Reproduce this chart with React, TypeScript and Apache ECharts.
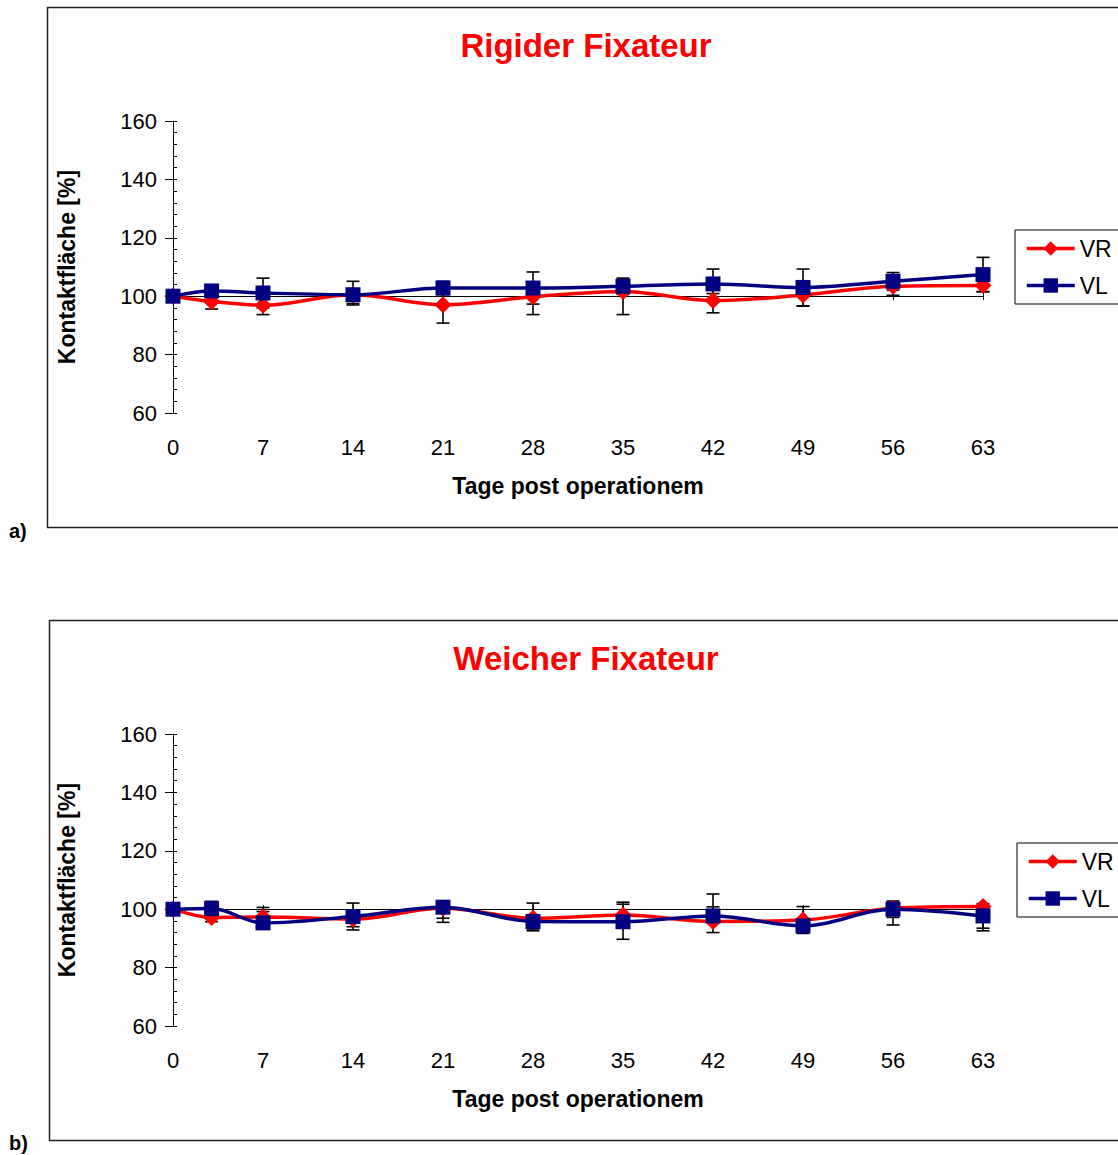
import React, { useEffect, useRef } from 'react';
import * as echarts from 'echarts';

// ---- data ----
const DAYS = [0, 3, 7, 14, 21, 28, 35, 42, 49, 56, 63];

// Panel a) Rigider Fixateur
const VR_A = [100, 98.2, 96.9, 100.5, 97.1, 99.8, 101.6, 98.5, 100.4, 103.4, 103.7];
const VR_A_PLUS = [0, 2.5, 2.2, 0, 6.3, 0, 0, 4.2, 3.8, 3.1, 0];
const VR_A_MINUS = [0, 2.6, 3.2, 3.5, 6.3, 6.1, 7.9, 4.2, 3.8, 3.1, 2.1];
const VL_A = [100, 101.8, 101.1, 100.5, 102.8, 102.8, 103.4, 104.2, 103.0, 105.1, 107.4];
const VL_A_PLUS = [0, 1.5, 5.1, 4.6, 2.3, 5.5, 2.8, 5.1, 6.3, 3.0, 5.9];
const VL_A_MINUS = [0, 1.5, 5.1, 3.0, 2.3, 5.5, 2.8, 3.3, 6.3, 3.0, 5.9];

// Panel b) Weicher Fixateur
const VR_B = [100, 97.2, 97.3, 96.6, 100.3, 96.9, 98.0, 95.8, 96.3, 100.3, 100.9];
const VR_B_PLUS = [0, 4.7, 3.3, 2.6, 0, 5.2, 4.4, 5.0, 4.6, 0, 0];
const VR_B_MINUS = [0, 1.5, 3.3, 2.6, 3.4, 3.7, 4.4, 3.8, 4.6, 5.7, 8.3];
const VL_B = [100, 100.2, 95.3, 97.5, 100.7, 95.8, 95.7, 97.7, 94.3, 100.0, 97.7];
const VL_B_PLUS = [0, 2.5, 3.9, 4.6, 0, 2.0, 6.0, 7.5, 1.5, 2.8, 4.2];
const VL_B_MINUS = [0, 2.5, 1.0, 4.6, 5.2, 3.2, 6.0, 1.0, 1.5, 2.8, 4.2];

const TITLES = ['Rigider Fixateur', 'Weicher Fixateur'];
const PANEL_LABELS = ['a)', 'b)'];
const SERIES_NAMES = ['VR', 'VL'];
const X_NAME = 'Tage post operationem';
const Y_NAME = 'Kontaktfläche [%]';

const Y_MIN = 60;
const Y_MAX = 160;
const Y_STEP = 20;
const X_MIN = 0;
const X_MAX = 63;
const X_STEP = 7;
const BASELINE = 100;

// ---- layout / style ----
const FONT = '"Liberation Sans", Arial, Helvetica, sans-serif';
const RED = '#FF0000';
const NAVY = '#000080';
const GRIDS = [
  { left: 173, top: 121, width: 810, height: 292 },
  { left: 173, top: 734, width: 810, height: 292 },
];
const FRAMES = [
  { x: 47.5, y: 7.5, height: 520 },
  { x: 49.5, y: 620.5, height: 520 },
];

function errorSeries(name: string, gi: number, vals: number[], plus: number[], minus: number[]) {
  return {
    type: 'custom',
    name,
    xAxisIndex: gi * 3,
    yAxisIndex: gi * 2,
    z: 1,
    silent: true,
    encode: { x: 0, y: 1 },
    data: DAYS.map((d, k) => [d, vals[k], plus[k], minus[k]]),
    renderItem: (params: any, api: any) => {
      const x = api.value(0);
      const y = api.value(1);
      const p = api.value(2);
      const m = api.value(3);
      const t = api.coord([x, y + p]);
      const b = api.coord([x, y - m]);
      const st = { stroke: '#000', lineWidth: 1.6 };
      const children: any[] = [
        { type: 'line', shape: { x1: t[0], y1: t[1], x2: b[0], y2: b[1] }, style: st },
      ];
      if (p > 0) children.push({ type: 'line', shape: { x1: t[0] - 6.5, y1: t[1], x2: t[0] + 6.5, y2: t[1] }, style: st });
      if (m > 0) children.push({ type: 'line', shape: { x1: b[0] - 6.5, y1: b[1], x2: b[0] + 6.5, y2: b[1] }, style: st });
      return { type: 'group', children };
    },
  };
}

function lineSeries(name: string, gi: number, vals: number[], color: string, symbol: string, size: number, z: number) {
  return {
    type: 'line',
    name,
    xAxisIndex: gi * 3,
    yAxisIndex: gi * 2,
    data: DAYS.map((d, k) => [d, vals[k]]),
    smooth: 0.35,
    symbol,
    symbolSize: size,
    showSymbol: true,
    lineStyle: { color, width: 3.5 },
    itemStyle: { color },
    z,
  };
}

function buildOption() {
  const xAxis: any[] = [];
  const yAxis: any[] = [];
  GRIDS.forEach((g, gi) => {
    const baseOffset = -((BASELINE - Y_MIN) / (Y_MAX - Y_MIN)) * g.height;
    const common = { gridIndex: gi, type: 'value', min: X_MIN, max: X_MAX, interval: X_STEP, splitLine: { show: false } };
    xAxis.push({
      ...common,
      position: 'bottom',
      axisLine: { show: false },
      axisTick: { show: false },
      axisLabel: { margin: 23, color: '#000', fontSize: 22, fontFamily: FONT },
      name: X_NAME,
      nameLocation: 'middle',
      nameGap: 61,
      nameTextStyle: { color: '#000', fontSize: 23, fontWeight: 'bold', fontFamily: FONT },
    });
    xAxis.push({
      ...common,
      position: 'bottom',
      offset: baseOffset,
      axisLine: { show: true, lineStyle: { color: '#000', width: 1 } },
      axisTick: { show: true, length: 4, lineStyle: { color: '#000', width: 1 } },
      axisLabel: { show: false },
    });
    xAxis.push({
      ...common,
      position: 'bottom',
      offset: baseOffset,
      axisLine: { show: false },
      axisTick: { show: true, inside: true, length: 4, lineStyle: { color: '#000', width: 1 } },
      axisLabel: { show: false },
    });
    const ycommon = { gridIndex: gi, type: 'value', min: Y_MIN, max: Y_MAX, interval: Y_STEP, position: 'left', splitLine: { show: false } };
    yAxis.push({
      ...ycommon,
      axisLine: { show: true, lineStyle: { color: '#000', width: 1 } },
      axisTick: { show: true, length: 8, lineStyle: { color: '#000', width: 1 } },
      axisLabel: { margin: 16, color: '#000', fontSize: 22, fontFamily: FONT },
      name: Y_NAME,
      nameLocation: 'middle',
      nameRotate: 90,
      nameGap: 95,
      nameTextStyle: { color: '#000', fontSize: 23, fontWeight: 'bold', fontFamily: FONT },
    });
    yAxis.push({
      ...ycommon,
      axisLine: { show: false },
      axisTick: { show: true, inside: true, length: 4, lineStyle: { color: '#000', width: 1 } },
      minorTick: { show: true, splitNumber: 5, length: 4, lineStyle: { color: '#000', width: 1 } },
      axisLabel: { show: false },
    });
  });

  const series: any[] = [
    errorSeries('VR err a', 0, VR_A, VR_A_PLUS, VR_A_MINUS),
    errorSeries('VL err a', 0, VL_A, VL_A_PLUS, VL_A_MINUS),
    lineSeries(SERIES_NAMES[0], 0, VR_A, RED, 'diamond', 17, 3),
    lineSeries(SERIES_NAMES[1], 0, VL_A, NAVY, 'rect', 15, 4),
    errorSeries('VR err b', 1, VR_B, VR_B_PLUS, VR_B_MINUS),
    errorSeries('VL err b', 1, VL_B, VL_B_PLUS, VL_B_MINUS),
    lineSeries(SERIES_NAMES[0], 1, VR_B, RED, 'diamond', 17, 3),
    lineSeries(SERIES_NAMES[1], 1, VL_B, NAVY, 'rect', 15, 4),
  ];

  const legendTops = [230, 843];
  const legendLefts = [1015, 1017];
  const legend = legendTops.map((top, i) => ({
    orient: 'vertical',
    left: legendLefts[i],
    top,
    padding: [7, 10, 7, 10],
    itemGap: 14,
    itemWidth: 48,
    itemHeight: 18,
    borderColor: '#000',
    borderWidth: 1,
    selectedMode: false,
    lineStyle: { width: 3.5 },
    textStyle: { color: '#000', fontSize: 23, fontFamily: FONT },
    data: SERIES_NAMES,
  }));

  const titleYs = [45, 658];
  const labelYs = [531, 1143];
  const graphic: any[] = [];
  FRAMES.forEach((f, i) => {
    graphic.push({
      type: 'rect',
      silent: true,
      z: -10,
      shape: { x: f.x, y: f.y, width: 1100, height: f.height },
      style: { fill: 'none', stroke: '#222', lineWidth: 1.5 },
    });
    graphic.push({
      type: 'text',
      silent: true,
      x: 586,
      y: titleYs[i],
      style: {
        text: TITLES[i],
        fill: RED,
        font: `bold 33px ${FONT}`,
        align: 'center',
        verticalAlign: 'middle',
        textAlign: 'center',
        textVerticalAlign: 'middle',
      },
    });
    graphic.push({
      type: 'text',
      silent: true,
      x: 9,
      y: labelYs[i],
      style: {
        text: PANEL_LABELS[i],
        fill: '#000',
        font: `bold 20px ${FONT}`,
        align: 'left',
        verticalAlign: 'middle',
        textAlign: 'left',
        textVerticalAlign: 'middle',
      },
    });
  });

  return {
    animation: false,
    backgroundColor: '#fff',
    grid: GRIDS.map((g) => ({ ...g, containLabel: false })),
    xAxis,
    yAxis,
    legend,
    graphic,
    series,
  };
}

export default function App() {
  const ref = useRef<HTMLDivElement>(null);
  useEffect(() => {
    if (!ref.current) return;
    const chart = echarts.init(ref.current, undefined, { renderer: 'svg' });
    chart.setOption(buildOption() as any);
    return () => chart.dispose();
  }, []);
  return (
    <div
      ref={ref}
      style={{ position: 'absolute', left: 0, top: 0, width: 1118, height: 1155, background: '#fff' }}
    />
  );
}
